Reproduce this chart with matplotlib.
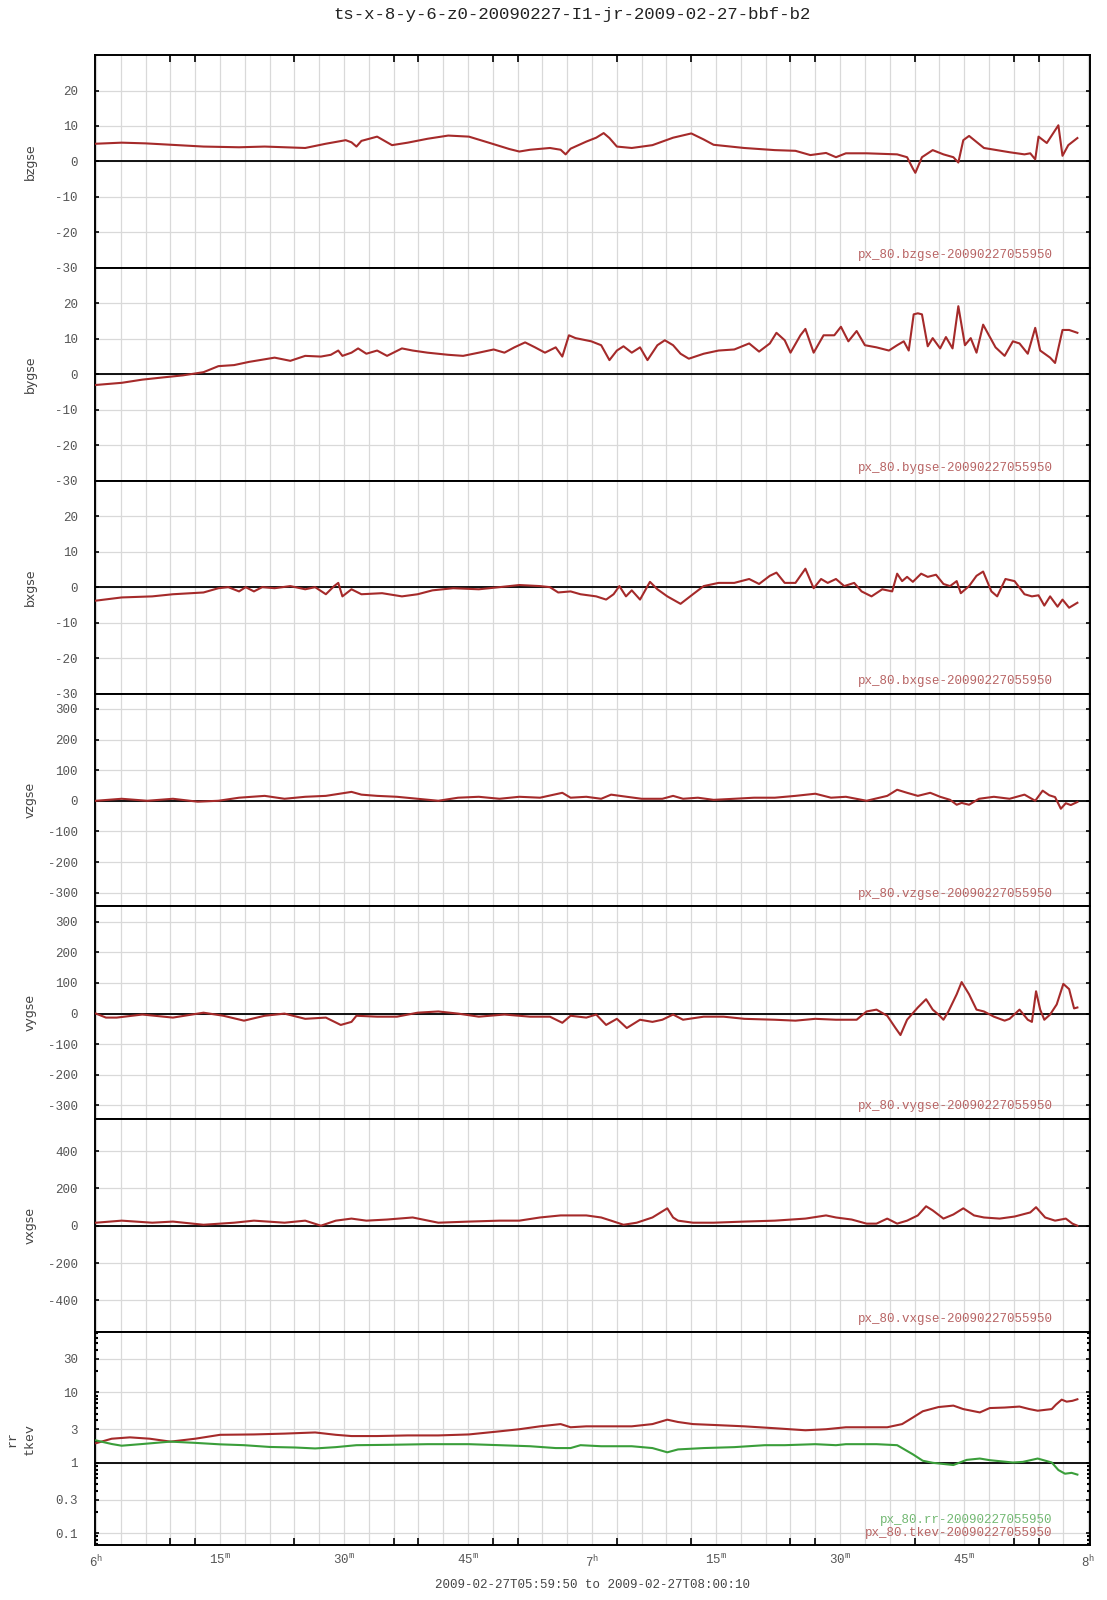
import numpy as np
import matplotlib
matplotlib.use('Agg')
import matplotlib.pyplot as plt
from matplotlib.ticker import FixedLocator, NullFormatter, NullLocator, LogLocator

plt.rcParams['font.family'] = ['Liberation Mono', 'DejaVu Sans Mono']
plt.rcParams['mathtext.fontset'] = 'custom'
plt.rcParams['mathtext.rm'] = 'Liberation Mono'
plt.rcParams['mathtext.it'] = 'Liberation Mono'

# time in minutes after 06:00
bz_t = [0, 3.1, 6, 13, 17.3, 20.4, 25.3, 27.8, 30.2, 30.9, 31.5, 32.1, 34.0, 34.9, 35.8, 37.7, 40.1, 42.6,
        45.1, 47.5, 50.0, 51.2, 52.5, 54.9, 56.2, 56.8, 57.4, 59.3, 60.5, 61.4, 62.1, 63.0, 64.8, 67.3, 69.8,
        72.0, 73.5, 74.7, 78.4, 82.1, 84.6, 86.4, 88.3, 89.5, 90.7, 93.2, 96.9, 98.1, 98.8, 99.1, 99.9, 101.2,
        102.5, 103.7, 104.3, 104.9, 105.6, 106.5, 107.4, 110.5, 112.3, 113.0, 113.6, 114.0, 115.0, 116.4,
        116.9, 117.6, 118.7]
bz_v = [5.0, 5.3, 5.1, 4.2, 4.0, 4.2, 3.8, 5.0, 6.0, 5.4, 4.2, 5.8, 7.0, 5.8, 4.6, 5.3, 6.4, 7.3,
        7.0, 5.3, 3.5, 2.8, 3.3, 3.8, 3.3, 2.0, 3.6, 5.6, 6.7, 8.0, 6.6, 4.2, 3.8, 4.6, 6.7,
        7.9, 6.2, 4.7, 3.8, 3.2, 3.0, 1.8, 2.4, 1.2, 2.3, 2.3, 2.0, 1.2, -2.0, -3.2, 1.2, 3.2,
        2.0, 1.2, -0.3, 6.0, 7.2, 5.5, 3.8, 2.6, 2.0, 2.3, 0.6, 7.0, 5.2, 10.2,
        1.6, 4.6, 6.6]

by_t = [0, 3.1, 5.6, 8.0, 10.5, 13.0, 14.8, 16.7, 18.5, 19.8, 21.6, 23.5, 25.3, 27.2, 28.4, 29.3, 29.8,
        30.9, 31.7, 32.7, 34.0, 35.2, 37.0, 38.3, 40.1, 42.6, 44.4, 46.3, 48.1, 49.4, 50.6, 51.9, 53.1,
        54.3, 55.6, 56.4, 57.2, 58.0, 59.9, 61.1, 62.1, 63.0, 63.8, 64.8, 65.8, 66.7, 67.9, 68.8, 69.8,
        70.7, 71.7, 73.5, 75.3, 77.2, 79.0, 80.2, 81.5, 82.3, 83.3, 84.0, 85.2, 85.8, 86.8, 88.0, 89.3,
        90.1, 91.0, 92.0, 93.0, 94.4, 95.9, 96.9, 97.7, 98.3, 98.9, 99.4, 99.9, 100.6, 101.2, 102.1,
        102.8, 103.6, 104.3, 105.1, 105.8, 106.5, 107.3, 108.0, 108.8, 109.9, 110.9, 111.7, 112.7,
        113.6, 114.2, 115.4, 116.0, 116.9, 117.7, 118.7]
by_v = [-3.0, -2.4, -1.5, -0.9, -0.3, 0.6, 2.3, 2.6, 3.5, 4.0, 4.7, 3.8, 5.2, 5.0, 5.5, 6.7, 5.2,
        6.1, 7.3, 5.8, 6.7, 5.2, 7.3, 6.7, 6.1, 5.5, 5.2, 6.1, 7.0, 6.1, 7.6, 9.0, 7.6,
        6.1, 7.6, 5.0, 11.0, 10.2, 9.3, 8.2, 4.0, 6.7, 7.9, 6.1, 7.6, 4.0, 8.2, 9.6, 8.2,
        5.8, 4.4, 5.8, 6.7, 7.0, 8.7, 6.4, 8.7, 11.7, 9.6, 6.1, 11.0, 12.8, 6.1, 11.0, 11.0,
        13.4, 9.3, 12.2, 8.2, 7.6, 6.7, 8.2, 9.3, 6.7, 16.9, 17.2, 16.9, 7.9, 10.2, 7.3,
        10.5, 7.3, 19.2, 8.2, 10.2, 6.1, 14.0, 11.0, 7.6, 5.2, 9.3, 8.7, 5.8,
        13.1, 6.7, 4.7, 3.2, 12.5, 12.5, 11.7]

bx_t = [0, 3.1, 6.8, 9.3, 13.0, 14.8, 16.0, 17.3, 18.1, 19.1, 20.1, 21.6, 23.5, 25.3, 26.5, 27.8, 28.8,
        29.3, 29.8, 30.9, 32.1, 34.6, 37.0, 38.9, 40.7, 43.2, 46.3, 48.8, 51.2, 53.7, 54.9, 55.9, 57.4,
        58.6, 60.5, 61.7, 62.6, 63.3, 64.1, 64.8, 65.8, 67.0, 67.9, 69.1, 70.7, 72.2, 73.5, 75.3, 77.2,
        79.0, 80.2, 81.5, 82.3, 83.3, 84.6, 85.8, 86.8, 87.7, 88.5, 89.5, 90.5, 91.7, 92.6, 93.8, 95.1,
        96.3, 96.9, 97.5, 98.1, 98.8, 99.8, 100.6, 101.6, 102.5, 103.3, 104.1, 104.6, 105.6, 106.5,
        107.3, 108.3, 109.0, 110.0, 111.1, 112.3, 113.2, 114.0, 114.7, 115.4, 116.3, 116.9, 117.7, 118.7]
bx_v = [-3.8, -2.9, -2.6, -2.0, -1.5, -0.3, 0.0, -1.2, 0.0, -1.2, 0.0, -0.3, 0.3, -0.6, 0.0, -2.0, 0.3,
        1.2, -2.6, -0.6, -2.0, -1.7, -2.6, -2.0, -0.9, -0.3, -0.6, 0.0, 0.6, 0.3, 0.0, -1.5, -1.2,
        -2.0, -2.6, -3.5, -2.0, 0.3, -2.6, -0.9, -3.5, 1.5, -0.6, -2.6, -4.7, -2.0, 0.3, 1.2, 1.2,
        2.3, 0.9, 3.2, 4.1, 1.2, 1.2, 5.2, -0.3, 2.3, 1.2, 2.3, 0.3, 1.2, -1.2, -2.6, -0.6,
        -1.2, 3.8, 1.7, 2.9, 1.5, 3.8, 2.9, 3.5, 0.9, 0.3, 1.7, -1.7, 0.3, 3.2,
        4.4, -1.2, -2.6, 2.3, 1.7, -2.0, -2.6, -2.3, -5.2, -2.6, -5.5, -3.5, -5.8, -4.4]

vz_t = [0, 3.1, 6.2, 9.3, 12.3, 14.8, 17.3, 20.4, 22.8, 25.3, 27.8, 30.9, 32.1, 34.0, 36.4, 38.9, 41.4,
        43.8, 46.3, 48.8, 51.2, 53.7, 56.4, 57.4, 59.3, 61.1, 62.3, 64.2, 66.0, 68.5, 69.8, 71.0, 72.8,
        74.7, 77.2, 79.6, 82.1, 84.6, 87.0, 88.9, 90.7, 93.2, 95.7, 96.9, 98.1, 99.4, 100.9, 102.1,
        103.3, 104.1, 104.7, 105.6, 106.8, 108.6, 110.5, 112.3, 113.6, 114.5, 115.3, 116.0, 116.7,
        117.3, 117.9, 118.7]
vz_v = [0, 6.5, 0, 6.5, -3, 0, 10, 16, 6.5, 13, 16, 29, 20, 16, 13, 6.5, 0,
        10, 13, 6.5, 13, 10, 26, 10, 13, 6.5, 20, 13, 6.5, 6.5, 16, 6.5, 10,
        3, 6.5, 10, 10, 16, 23, 10, 13, 0, 16, 36, 26, 16, 26, 13,
        3, -13, -7, -13, 6.5, 13, 6.5, 20, 0, 33, 18, 12, -26,
        -8, -14, -4]

vy_t = [0, 1.2, 2.5, 5.6, 9.3, 13.0, 15.4, 17.9, 20.4, 22.8, 25.3, 27.8, 29.6, 30.9, 31.5, 34.0, 36.4,
        38.9, 41.4, 43.8, 46.3, 49.4, 52.5, 54.9, 56.4, 57.4, 59.3, 60.5, 61.7, 63.0, 64.2, 65.8, 67.3,
        68.5, 69.8, 71.0, 73.5, 75.9, 78.4, 82.1, 84.6, 87.0, 89.5, 92.0, 93.2, 94.4, 95.7, 96.7, 97.3,
        98.1, 99.4, 100.4, 101.2, 101.9, 102.5, 103.1, 104.1, 104.7, 105.6, 106.5, 107.4, 108.6, 109.9,
        110.5, 111.7, 112.7, 113.2, 113.7, 114.2, 114.7, 115.4, 116.2, 117.0, 117.7, 118.3, 118.7]
vy_v = [0, -13, -13, -3, -13, 3, -7, -23, -7, 0, -17, -13, -37, -27, -7, -10, -10,
        3, 7, 0, -10, -3, -10, -10, -30, -7, -13, -3, -37, -17, -47, -20, -27,
        -20, -3, -20, -10, -10, -17, -20, -23, -17, -20, -20, 7, 13, -7, -47, -70,
        -20, 20, 47, 13, -3, -20, 7, 63, 103, 63, 13, 7, -10, -23,
        -17, 13, -20, -27, 73, 13, -20, -3, 30, 97, 80, 17, 20]

vx_t = [0, 3.1, 6.8, 9.3, 13.0, 16.7, 19.1, 22.8, 25.3, 27.2, 29.0, 30.9, 32.7, 35.2, 38.3, 41.4, 45.1,
        48.8, 51.2, 53.7, 56.2, 59.3, 61.1, 62.3, 63.8, 65.4, 67.3, 69.1, 69.8, 70.4, 72.2, 74.7, 78.4,
        82.1, 85.8, 88.3, 89.5, 91.4, 93.2, 94.4, 95.7, 96.9, 98.1, 99.4, 100.4, 101.2, 102.5, 103.7,
        104.9, 106.2, 107.4, 109.3, 111.1, 113.0, 113.7, 114.8, 116.0, 117.3, 118.1, 118.7]
vx_v = [16, 27, 16, 22, 5, 16, 27, 16, 27, 0, 27, 38, 27, 33, 44, 16, 22,
        27, 27, 44, 55, 55, 44, 27, 5, 16, 44, 93, 44, 27, 16, 16, 22,
        27, 38, 55, 44, 33, 11, 11, 38, 11, 27, 55, 104, 82, 38, 60,
        93, 55, 44, 38, 49, 71, 99, 44, 27, 38, 11, 0]

tkev_t = [0, 1.9, 4.1, 6.5, 9.0, 12.0, 15.0, 19.1, 22.8, 26.5, 29.0, 30.9, 34.0, 37.7, 41.4, 45.1, 48.8,
          51.2, 53.7, 56.2, 57.4, 59.3, 62.3, 64.8, 67.3, 69.1, 70.4, 72.2, 74.7, 78.4, 82.1, 85.8, 88.3,
          90.7, 93.2, 95.7, 97.5, 98.8, 100.0, 101.9, 103.7, 104.9, 106.9, 108.1, 109.9, 111.7, 112.9,
          113.9, 115.6, 116.1, 116.8, 117.4, 118.1, 118.7]
tkev_v = [1.9, 2.2, 2.3, 2.2, 2.0, 2.2, 2.5, 2.53, 2.6, 2.7, 2.5, 2.4, 2.4, 2.45, 2.45, 2.53, 2.8,
          3.0, 3.3, 3.55, 3.2, 3.3, 3.3, 3.3, 3.55, 4.1, 3.8, 3.55, 3.45, 3.3, 3.1, 2.9, 3.0,
          3.2, 3.2, 3.2, 3.55, 4.4, 5.4, 6.2, 6.5, 5.8, 5.2, 6.0, 6.1, 6.3, 5.8,
          5.5, 5.8, 6.7, 7.9, 7.4, 7.6, 8.0]

rr_t = [0, 1.9, 3.1, 5.6, 9.0, 12.0, 15.0, 17.9, 21.0, 24.1, 26.5, 29.0, 31.5, 35.2, 40.1, 45.1, 48.8,
        52.5, 55.6, 57.4, 58.6, 61.1, 64.8, 67.3, 69.1, 70.4, 73.5, 77.2, 80.9, 83.3, 87.0, 89.5, 90.7,
        94.4, 96.9, 98.8, 100.0, 101.2, 103.7, 105.3, 106.9, 108.1, 110.9, 112.1, 113.9, 115.6, 116.4,
        117.2, 118.0, 118.7]
rr_v = [2.08, 1.85, 1.75, 1.85, 2.0, 1.92, 1.83, 1.78, 1.68, 1.65, 1.6, 1.67, 1.78, 1.8, 1.84, 1.84, 1.78,
        1.72, 1.62, 1.62, 1.78, 1.72, 1.72, 1.62, 1.41, 1.55, 1.62, 1.67, 1.78, 1.78, 1.84, 1.78, 1.84,
        1.84, 1.78, 1.32, 1.07, 1.0, 0.93, 1.1, 1.15, 1.09, 1.01, 1.03, 1.15, 1.01, 0.79,
        0.70, 0.72, 0.68]

panel_names = ['bzgse', 'bygse', 'bxgse', 'vzgse', 'vygse', 'vxgse']
panel_t = [bz_t, by_t, bx_t, vz_t, vy_t, vx_t]
panel_v = [bz_v, by_v, bx_v, vz_v, vy_v, vx_v]
panel_lims = [(-30, 30), (-30, 30), (-30, 30), (-345, 350), (-345, 350), (-570, 570)]
panel_ticks = [[-30, -20, -10, 0, 10, 20], [-30, -20, -10, 0, 10, 20], [-30, -20, -10, 0, 10, 20],
               [-300, -200, -100, 0, 100, 200, 300], [-300, -200, -100, 0, 100, 200, 300],
               [-400, -200, 0, 200, 400]]
log_ticks = [0.1, 0.3, 1, 3, 10, 30]
log_labels = ['0.1', '0.3', '1', '3', '10', '30']

xlab_pos = [0, 15, 30, 45, 60, 75, 90, 105, 120]
xlab_txt = [r'6$^{\mathrm{h}}$', r'15$^{\mathrm{m}}$', r'30$^{\mathrm{m}}$', r'45$^{\mathrm{m}}$',
            r'7$^{\mathrm{h}}$', r'15$^{\mathrm{m}}$', r'30$^{\mathrm{m}}$', r'45$^{\mathrm{m}}$',
            r'8$^{\mathrm{h}}$']
xmark_pos = [9, 12, 24, 36, 39, 48, 51, 60, 63, 72, 75, 84, 87, 99, 111, 114]

red = '#a52a2a'
green = '#3a9e3a'
tick_col = '#555555'
grid_col = '#d9d9d9'

fig = plt.figure(figsize=(11.07, 16), dpi=100)
gs = fig.add_gridspec(7, 1, left=0.0855, right=0.9842, top=0.9656, bottom=0.0344, hspace=0)
axes = [fig.add_subplot(gs[i]) for i in range(7)]


def style_axis(ax):
    ax.set_xlim(-10 / 60, 120 + 10 / 60)
    for g in np.arange(0, 121, 3):
        ax.axvline(g, color=grid_col, lw=0.9, zorder=0)
    ax.set_xticks(xlab_pos)
    ax.set_xticklabels([])
    ax.tick_params(axis='x', which='major', length=0)
    ax.xaxis.set_minor_locator(NullLocator())
    ax.tick_params(axis='y', which='both', direction='in', length=3, width=1.2,
                   labelsize=9, labelcolor=tick_col, right=True, pad=12)
    for s in ax.spines.values():
        s.set_linewidth(1.4)


for i in range(6):
    ax = axes[i]
    style_axis(ax)
    ax.set_ylim(panel_lims[i])
    ax.set_yticks(panel_ticks[i])
    ax.set_yticklabels([str(v) for v in panel_ticks[i]])
    for v in panel_ticks[i]:
        ax.axhline(v, color=grid_col, lw=0.9, zorder=0)
    ax.axhline(0, color='black', lw=1.3, zorder=1)
    ax.plot(panel_t[i], panel_v[i], color=red, lw=1.5, zorder=3, solid_joinstyle='round')
    ax.set_ylabel(panel_names[i], family='DejaVu Sans', fontsize=9, color='#444444', va='center')
    ax.yaxis.set_label_coords(-0.065, 0.5)
    ax.text(0.963, 0.06, 'px_80.' + panel_names[i] + '-20090227055950', transform=ax.transAxes,
            ha='right', va='center', fontsize=9, color='#b86464')

ax = axes[6]
style_axis(ax)
ax.set_yscale('log')
ax.set_ylim(0.068, 72)
ax.yaxis.set_major_locator(FixedLocator(log_ticks))
ax.set_yticklabels(log_labels)
ax.yaxis.set_minor_locator(LogLocator(base=10, subs=np.arange(2, 10)))
ax.yaxis.set_minor_formatter(NullFormatter())
ax.tick_params(axis='y', which='minor', length=2, width=1.5)
for v in log_ticks:
    ax.axhline(v, color=grid_col, lw=0.9, zorder=0)
ax.axhline(1, color='black', lw=1.3, zorder=1)
ax.plot(tkev_t, tkev_v, color=red, lw=1.5, zorder=3, solid_joinstyle='round')
ax.plot(rr_t, rr_v, color=green, lw=1.5, zorder=3, solid_joinstyle='round')
ax.set_ylabel('rr\ntkev', fontsize=9.5, color='#444444', linespacing=1.5, va='center')
ax.yaxis.set_label_coords(-0.074, 0.5)
ax.text(0.963, 0.117, 'px_80.rr-20090227055950', transform=ax.transAxes,
        ha='right', va='center', fontsize=9, color='#72b872')
ax.text(0.963, 0.056, 'px_80.tkev-20090227055950', transform=ax.transAxes,
        ha='right', va='center', fontsize=9, color='#b86464')

# time labels at the bottom; odd tick marks only on the outer edges
ax.set_xticklabels(xlab_txt)
ax.tick_params(axis='x', which='major', labelsize=9, labelcolor=tick_col, pad=6)
ax.xaxis.set_minor_locator(FixedLocator(xmark_pos))
ax.tick_params(axis='x', which='minor', direction='in', length=5, width=1.2, bottom=True, top=False)
axes[0].xaxis.set_minor_locator(FixedLocator(xmark_pos))
axes[0].tick_params(axis='x', which='minor', direction='in', length=5, width=1.2,
                    top=True, bottom=False)

fig.text(0.517, 0.991, 'ts-x-8-y-6-z0-20090227-I1-jr-2009-02-27-bbf-b2', ha='center', va='center',
         fontsize=12.5, color='#222222')
fig.text(0.535, 0.0095, '2009-02-27T05:59:50 to 2009-02-27T08:00:10', ha='center', va='center',
         fontsize=9, color='#444444')

fig.savefig('out.png', dpi=100)
